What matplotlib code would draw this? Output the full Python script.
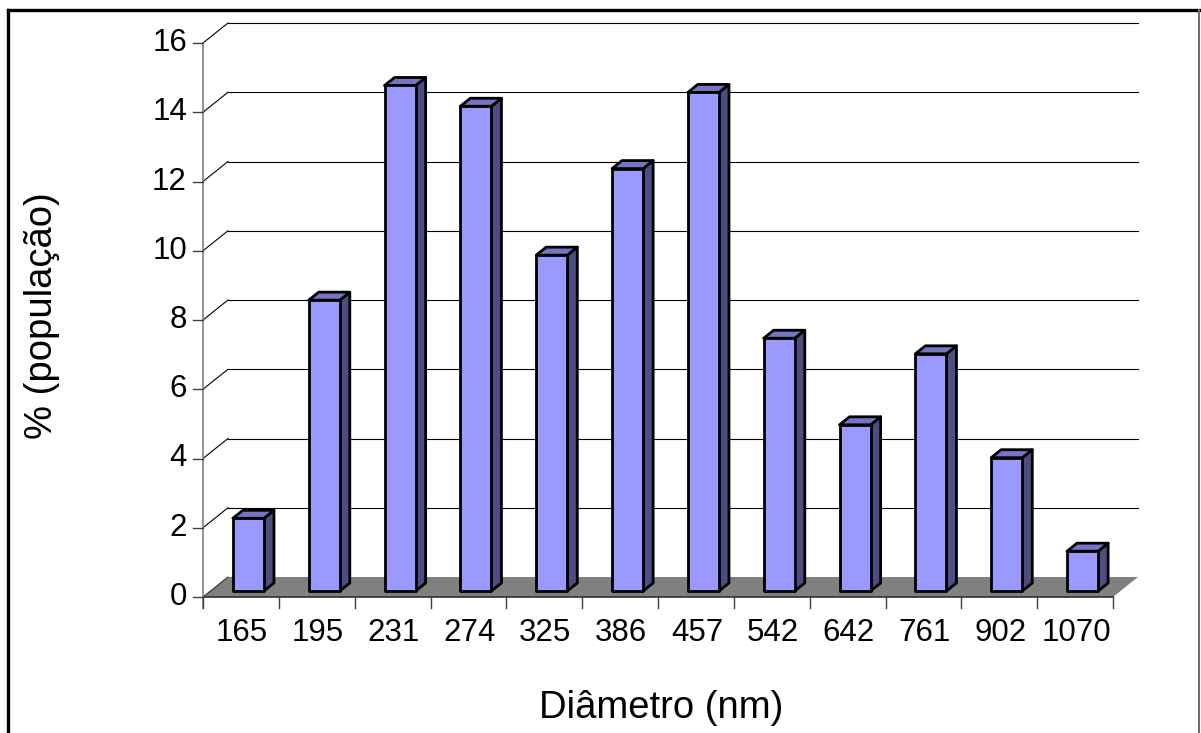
import matplotlib
matplotlib.use("Agg")
import matplotlib.pyplot as plt
import matplotlib.transforms as mtransforms
from matplotlib.patches import Polygon
from matplotlib.lines import Line2D
import numpy as np

# Particle size distribution
categories = ["165", "195", "231", "274", "325", "386", "457",
              "542", "642", "761", "902", "1070"]
population = [2.1, 8.4, 14.6, 14.0, 9.7, 12.2, 14.4, 7.3, 4.8, 6.85, 3.85, 1.15]
yticks = [0, 2, 4, 6, 8, 10, 12, 14, 16]
xlabel = "Diâmetro (nm)"
ylabel = "% (população)"

plt.rcParams["font.family"] = ["Liberation Sans", "DejaVu Sans"]

W, H, DPI = 1201, 733, 100
fig = plt.figure(figsize=(W / DPI, H / DPI), dpi=DPI)
fig.patch.set_facecolor("white")

# front plane of the plot box
ax = fig.add_axes([203 / W, 1 - 597 / H, 910 / W, 554 / H])
ax.set_xlim(0, len(categories))
ax.set_ylim(0, yticks[-1])
ax.axis("off")

DEPTH = np.array([25.0, 20.0])      # oblique depth of the box, in pixels
BAR_FRONT, BAR_BACK = 0.30, 0.70    # bar position inside the depth
BAR_W = 0.41
ident = mtransforms.IdentityTransform()


def at_depth(f):
    return mtransforms.offset_copy(ax.transData, fig=fig, x=DEPTH[0] * f,
                                   y=DEPTH[1] * f, units="dots")


def disp(x, y, f=0.0):
    return ax.transData.transform((x, y)) + DEPTH * f


def seg(p0, p1, **kw):
    ax.add_line(Line2D([p0[0], p1[0]], [p0[1], p1[1]], transform=ident,
                       clip_on=False, **kw))


n = len(categories)

# back-wall gridlines and side-wall diagonals
for v in yticks[1:]:
    ax.plot([0, n], [v, v], color="black", lw=0.8, transform=at_depth(1),
            clip_on=False, zorder=1)
    seg(disp(0, v, 0), disp(0, v, 1), color="black", lw=0.8, zorder=1)

# floor
floor = Polygon([disp(0, 0, 0), disp(n, 0, 0), disp(n, 0, 1), disp(0, 0, 1)],
                closed=True, facecolor="#808080", edgecolor="none",
                transform=ident, clip_on=False, zorder=2)
ax.add_patch(floor)
seg(disp(0, 0, 0), disp(n, 0, 0), color="#303030", lw=1.2, zorder=2.1)
seg(disp(0, 0, 0), disp(0, 0, 1), color="#303030", lw=0.8, zorder=2.1)

# value axis line and ticks
seg(disp(0, 0) + [0, -11], disp(0, yticks[-1]), color="#808080", lw=1.2, zorder=2.2)
for v in yticks:
    seg(disp(0, v) + [-10, 0], disp(0, v), color="#404040", lw=1.0, zorder=2.2)
    ax.text(0, v, str(v), transform=mtransforms.offset_copy(
        ax.transData, fig=fig, x=-16, y=0, units="dots"),
        ha="right", va="center", fontsize=22.5, color="black")

# category ticks and labels
for k in range(n + 1):
    seg(disp(k, 0) + [0, -11], disp(k, 0), color="#404040", lw=1.0, zorder=2.2)
for i, lbl in enumerate(categories):
    ax.text(i + 0.5, 0, lbl, transform=mtransforms.offset_copy(
        ax.transData, fig=fig, x=1, y=-36, units="dots"),
        ha="center", va="center", fontsize=22.5, color="black")

# 3-D columns
xs = np.arange(n) + 0.5
edge_kw = dict(edgecolor="black", linewidth=2.0, joinstyle="round")
for i, (x, v) in enumerate(zip(xs, population)):
    z = 3 + i * 0.01
    ax.bar(x, v, width=BAR_W, color="#9999FF", transform=at_depth(BAR_FRONT),
           clip_on=False, zorder=z + 0.002, **edge_kw)
    xl, xr = x - BAR_W / 2, x + BAR_W / 2
    side = [disp(xr, 0, BAR_FRONT), disp(xr, 0, BAR_BACK),
            disp(xr, v, BAR_BACK), disp(xr, v, BAR_FRONT)]
    top = [disp(xl, v, BAR_FRONT), disp(xr, v, BAR_FRONT),
           disp(xr, v, BAR_BACK), disp(xl, v, BAR_BACK)]
    ax.add_patch(Polygon(side, closed=True, facecolor="#4D4D82",
                         transform=ident, clip_on=False, zorder=z, **edge_kw))
    ax.add_patch(Polygon(top, closed=True, facecolor="#7575C4",
                         transform=ident, clip_on=False, zorder=z + 0.001, **edge_kw))

# axis titles
fig.text(661 / W, 1 - 718 / H, xlabel, ha="center", va="baseline", fontsize=27.5)
fig.text(42 / W, 1 - 316 / H, ylabel, ha="center", va="center",
         rotation=90, fontsize=27.5)

# chart area border
fig.add_artist(Line2D([8 / W, 1199 / W], [1 - 10 / H, 1 - 10 / H],
                      transform=fig.transFigure, color="black", lw=2.4))
fig.add_artist(Line2D([8 / W, 8 / W], [1 - 10 / H, 0],
                      transform=fig.transFigure, color="black", lw=2.4))
fig.add_artist(Line2D([1199 / W, 1199 / W], [1 - 10 / H, 0],
                      transform=fig.transFigure, color="#707070", lw=1.5))

fig.savefig("out.png", dpi=DPI, facecolor="white")
